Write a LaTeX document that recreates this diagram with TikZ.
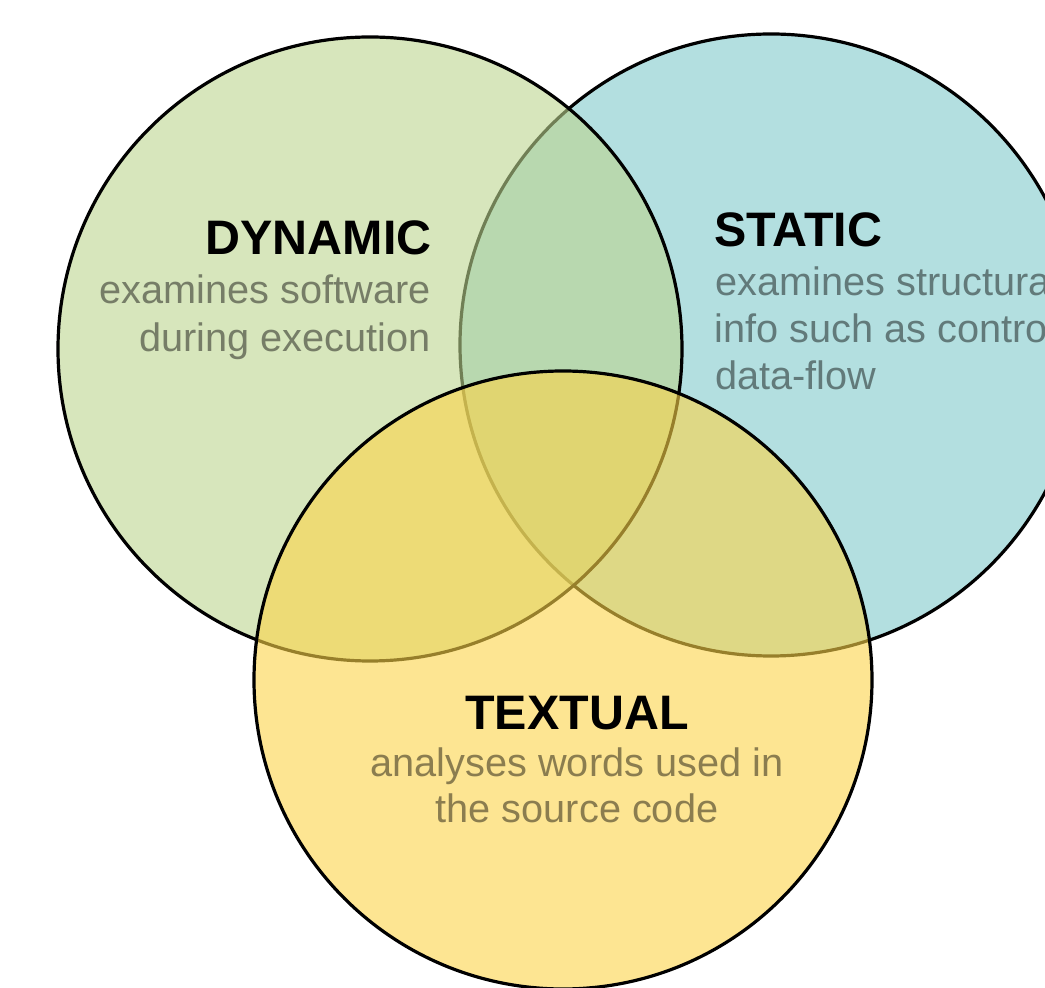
\documentclass[tikz,border=0pt]{standalone}
\usepackage{fontspec}
\setmainfont{Liberation Sans}
\definecolor{dyngreen}{RGB}{188,213,143}
\definecolor{statblue}{RGB}{128,202,203}
\definecolor{textyellow}{RGB}{252,212,73}

\begin{document}
\begin{tikzpicture}[x=0.5pt,y=-0.5pt,
    venn/.style={draw=black,line width=1.6pt,fill opacity=0.6},
    heading/.style={inner sep=0pt,text=black,font=\fontsize{24.2}{28}\selectfont\bfseries},
    desc/.style={inner sep=0pt,text=black,text opacity=0.45,font=\fontsize{19.85}{23.5}\selectfont}]
    % --- frame
    \useasboundingbox (0,0) rectangle (1045,988);
    \clip (0,0) rectangle (1045,988);

    % --- centres
    \coordinate (cs) at (771,345);
    \coordinate (cd) at (370,349);
    \coordinate (ct) at (563,680);

    % --- circles (static first, textual on top)
    \draw[venn,fill=statblue]   (cs) circle (311);
    \draw[venn,fill=dyngreen]   (cd) circle (312);
    \draw[venn,fill=textyellow] (ct) circle (309);

    % --- dynamic
    \node[heading,anchor=base east] (dyn)  at (432,255) {DYNAMIC};
    \node[desc,anchor=base east]    (dyn1) at (431,304) {examines software};
    \node[desc,anchor=base east]    (dyn2) at (431,352) {during execution};

    % --- static
    \node[heading,anchor=base west] (sta)  at (714,247) {STATIC};
    \node[desc,anchor=base west]    (sta1) at (715,296) {examines structural};
    \node[desc,anchor=base west]    (sta2) at (714,343) {info such as control};
    \node[desc,anchor=base west]    (sta3) at (715,390) {data-flow};

    % --- textual
    \node[heading,anchor=base] (tex)  at (577,730) {TEXTUAL};
    \node[desc,anchor=base]    (tex1) at (577,777) {analyses words used in};
    \node[desc,anchor=base]    (tex2) at (577,823) {the source code};
\end{tikzpicture}
\end{document}
